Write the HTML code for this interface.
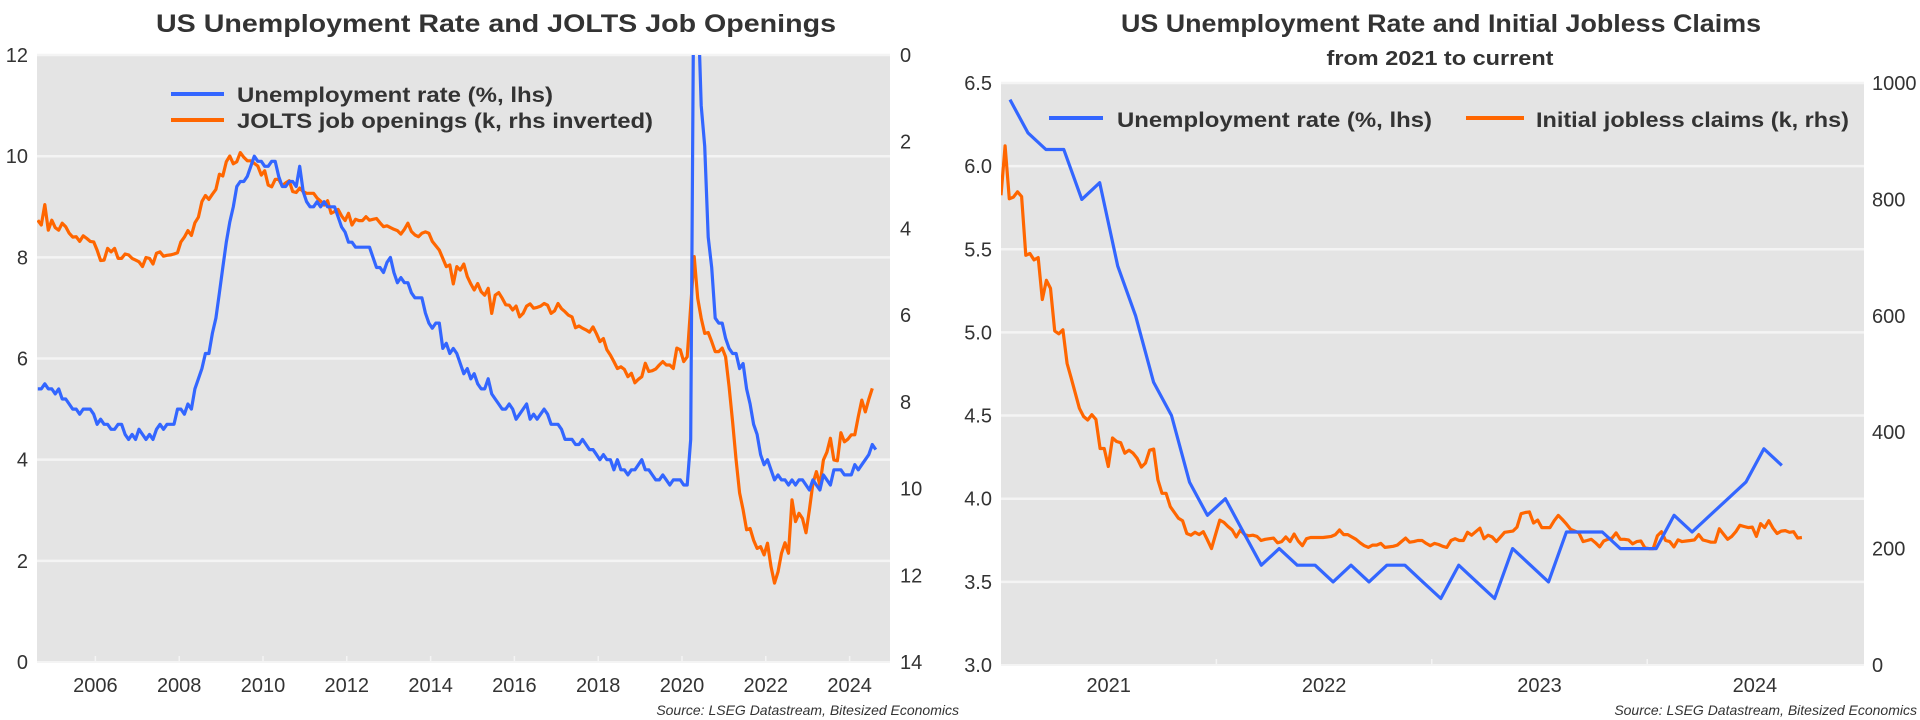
<!DOCTYPE html>
<html><head><meta charset="utf-8"><style>
html,body{margin:0;padding:0;background:#fff;}
svg{display:block;font-family:"Liberation Sans",Arial,sans-serif;}
</style></head><body>
<svg id="c" width="1920" height="720" viewBox="0 0 1920 720" xmlns="http://www.w3.org/2000/svg">
<defs>
<clipPath id="clipL"><rect x="37" y="55" width="853" height="607"/></clipPath>
<clipPath id="clipR"><rect x="1001" y="83" width="863" height="582"/></clipPath>
</defs>
<g id="left">
<rect x="37" y="55" width="853" height="607" fill="#e4e4e4"/>
<g id="lgrid"></g>
<g id="lticks"></g>
<g id="lseries" clip-path="url(#clipL)"></g>
<text x="496" y="32" text-anchor="middle" font-size="25" font-weight="bold" fill="#333" textLength="680" lengthAdjust="spacingAndGlyphs">US Unemployment Rate and JOLTS Job Openings</text>
<g>
<line x1="171" y1="94" x2="224" y2="94" stroke="#3366ff" stroke-width="4"/>
<text x="237" y="102" font-size="21" font-weight="bold" fill="#333" textLength="316" lengthAdjust="spacingAndGlyphs">Unemployment rate (%, lhs)</text>
<line x1="171" y1="120" x2="224" y2="120" stroke="#ff6600" stroke-width="4"/>
<text x="237" y="128" font-size="21" font-weight="bold" fill="#333" textLength="416" lengthAdjust="spacingAndGlyphs">JOLTS job openings (k, rhs inverted)</text>
</g>
<text x="959" y="715" text-anchor="end" font-size="14" font-style="italic" fill="#333">Source: LSEG Datastream, Bitesized Economics</text>
</g>
<g id="right">
<rect x="1001" y="83" width="863" height="582" fill="#e4e4e4"/>
<g id="rgrid"></g>
<g id="rticks"></g>
<g id="rseries" clip-path="url(#clipR)"></g>
<text x="1441" y="32" text-anchor="middle" font-size="25" font-weight="bold" fill="#333" textLength="640" lengthAdjust="spacingAndGlyphs">US Unemployment Rate and Initial Jobless Claims</text>
<text x="1440" y="65" text-anchor="middle" font-size="20" font-weight="bold" fill="#333" textLength="227" lengthAdjust="spacingAndGlyphs">from 2021 to current</text>
<g>
<line x1="1049" y1="118" x2="1103" y2="118" stroke="#3366ff" stroke-width="4"/>
<text x="1117" y="127" font-size="21" font-weight="bold" fill="#333" textLength="315" lengthAdjust="spacingAndGlyphs">Unemployment rate (%, lhs)</text>
<line x1="1466" y1="118" x2="1524" y2="118" stroke="#ff6600" stroke-width="4"/>
<text x="1536" y="127" font-size="21" font-weight="bold" fill="#333" textLength="313" lengthAdjust="spacingAndGlyphs">Initial jobless claims (k, rhs)</text>
</g>
<text x="1917" y="715" text-anchor="end" font-size="14" font-style="italic" fill="#333">Source: LSEG Datastream, Bitesized Economics</text>
</g>
</svg>
<script>
// ---- Left chart data (monthly, starting Aug 2004) ----
const leftStart = [2004, 8];
const leftUnemp = [5.4,5.4,5.5,5.4,5.4,
5.3,5.4,5.2,5.2,5.1,5.0,5.0,4.9,5.0,5.0,5.0,4.9,
4.7,4.8,4.7,4.7,4.6,4.6,4.7,4.7,4.5,4.4,4.5,4.4,
4.6,4.5,4.4,4.5,4.4,4.6,4.7,4.6,4.7,4.7,4.7,5.0,
5.0,4.9,5.1,5.0,5.4,5.6,5.8,6.1,6.1,6.5,6.8,7.3,
7.8,8.3,8.7,9.0,9.4,9.5,9.5,9.6,9.8,10.0,9.9,9.9,
9.8,9.8,9.9,9.9,9.6,9.4,9.4,9.5,9.5,9.4,9.8,9.3,
9.1,9.0,9.0,9.1,9.0,9.1,9.0,9.0,9.0,8.8,8.6,8.5,
8.3,8.3,8.2,8.2,8.2,8.2,8.2,8.0,7.8,7.8,7.7,7.9,
8.0,7.7,7.5,7.6,7.5,7.5,7.3,7.2,7.2,7.2,6.9,6.7,
6.6,6.7,6.7,6.2,6.3,6.1,6.2,6.1,5.9,5.7,5.8,5.6,
5.7,5.5,5.4,5.4,5.6,5.3,5.2,5.1,5.0,5.0,5.1,5.0,
4.8,4.9,5.0,5.1,4.8,4.9,4.8,4.9,5.0,4.9,4.7,4.7,
4.7,4.6,4.4,4.4,4.4,4.3,4.3,4.4,4.3,4.2,4.2,4.1,
4.0,4.1,4.0,4.0,3.8,4.0,3.8,3.8,3.7,3.8,3.8,3.9,
4.0,3.8,3.8,3.7,3.6,3.6,3.7,3.6,3.5,3.6,3.6,3.6,
3.5,3.5,4.4,14.8,13.2,11.0,10.2,8.4,7.8,6.8,6.7,6.7,
6.4,6.2,6.1,6.1,5.8,5.9,5.4,5.1,4.7,4.5,4.1,3.9,
4.0,3.8,3.6,3.7,3.6,3.6,3.5,3.6,3.5,3.6,3.6,3.5,
3.4,3.6,3.5,3.4,3.7,3.6,3.5,3.8,3.8,3.8,3.7,3.7,
3.7,3.9,3.8,3.9,4.0,4.1,4.3,4.2];
const leftJolts = [3.81,3.92,3.45,4.04,3.81,3.98,4.04,3.88,3.96,4.11,4.2,4.19,4.3,4.17,4.23,4.3,4.31,4.5,4.74,4.73,
4.46,4.54,4.46,4.69,4.69,4.59,4.61,4.69,4.73,4.77,4.88,4.67,4.69,4.82,4.57,4.54,4.64,4.62,4.61,4.59,
4.56,4.31,4.2,4.05,4.16,3.87,3.74,3.38,3.24,3.33,3.21,3.1,2.75,2.79,2.46,2.33,2.51,2.46,2.25,2.36,
2.44,2.44,2.5,2.56,2.77,2.67,3.0,3.04,2.87,2.87,3.02,2.95,2.9,3.15,3.17,3.07,3.15,3.19,3.19,3.19,
3.3,3.37,3.46,3.36,3.65,3.61,3.56,3.71,3.82,3.65,3.92,3.79,3.82,3.82,3.73,3.81,3.79,3.77,3.87,3.96,
3.94,3.98,4.02,4.05,4.13,4.02,3.88,4.07,4.15,4.19,4.11,4.08,4.11,4.3,4.4,4.5,4.69,4.88,4.84,5.28,
4.88,4.96,4.82,5.11,5.28,5.42,5.27,5.46,5.54,5.38,5.96,5.54,5.48,5.61,5.76,5.77,5.88,5.79,6.04,5.96,
5.79,5.74,5.84,5.82,5.79,5.73,5.77,5.96,5.9,5.73,5.85,5.92,6.0,6.04,6.29,6.25,6.3,6.34,6.39,6.27,
6.43,6.61,6.54,6.8,6.92,7.07,7.23,7.19,7.25,7.42,7.34,7.56,7.48,7.42,7.11,7.3,7.28,7.24,7.15,7.07,
7.15,7.15,7.23,6.76,6.8,7.07,6.96,5.8,4.65,5.61,6.07,6.42,6.4,6.61,6.84,6.84,6.76,6.96,7.65,8.46,
9.34,10.1,10.49,10.95,10.92,11.19,11.38,11.34,11.53,11.26,11.8,12.18,11.92,11.49,11.25,11.49,10.26,10.76,10.57,10.69,
11.02,10.49,9.88,9.61,9.92,9.34,9.16,8.84,9.34,9.36,8.71,8.92,8.86,8.76,8.76,8.34,7.96,8.23,7.94,7.69];
const leftXTicks = [2006,2008,2010,2012,2014,2016,2018,2020,2022,2024];
const leftYTicks = [0,2,4,6,8,10,12];
const leftY2Ticks = [0,2,4,6,8,10,12,14];

// ---- Right chart data ----
const rightUnempStart = [2021, 1];
const rightUnemp = [6.4,6.2,6.1,6.1,5.8,5.9,5.4,5.1,4.7,4.5,4.1,3.9,
4.0,3.8,3.6,3.7,3.6,3.6,3.5,3.6,3.5,3.6,3.6,3.5,
3.4,3.6,3.5,3.4,3.7,3.6,3.5,3.8,3.8,3.8,3.7,3.7,
3.7,3.9,3.8,3.9,4.0,4.1,4.3,4.2];
const claimsStart = 2021.0; // first weekly observation (fractional year)
const claims = [807,892,801,804,813,805,704,707,696,700,628,661,647,574,569,576,518,493,467,441,
427,421,430,422,372,372,341,390,384,382,364,369,364,355,340,347,369,371,318,295,
295,272,262,252,248,226,223,228,224,229,215,200,225,249,245,238,232,220,232,224,
222,223,221,214,216,217,218,210,212,220,212,225,213,205,217,219,219,219,219,220,
221,224,232,224,224,220,216,210,205,202,206,206,209,202,203,204,206,212,218,211,
212,214,214,209,205,209,207,204,202,214,217,214,214,228,223,229,235,217,223,220,
212,220,228,229,230,237,260,262,263,244,249,236,236,236,248,257,250,242,233,230,
227,212,214,216,210,203,213,216,218,227,216,216,215,208,212,213,201,200,200,222,
229,214,212,203,215,212,213,214,215,224,215,213,211,211,234,225,216,221,229,240,
238,236,237,221,243,236,248,235,226,230,231,228,229,218,219];
const rightXLabels = [2021,2022,2023,2024];
const rightYTicks = [3.0,3.5,4.0,4.5,5.0,5.5,6.0,6.5];
const rightY2Ticks = [0,200,400,600,800,1000];

const NS = 'http://www.w3.org/2000/svg';
function mk(tag, attrs, parent){const e=document.createElementNS(NS,tag);for(const k in attrs)e.setAttribute(k,attrs[k]);parent.appendChild(e);return e;}

// axis functions
const xL = t => 682 + (t-2020)*41.9;
const yL = v => 662 - v*50.58;
const yL2 = v => 55 + v*43.36;
const xR = t => 1001 + (t-2021)*215.4;
const yR = v => 665 - (v-3)*166.3;
const yR2 = k => 665 - k*0.582;
const monthT = (start,i) => start[0] + (start[1]-1 + i + 0.5)/12;

// ---- left chart ----
const lgrid=document.getElementById('lgrid'), lticks=document.getElementById('lticks'), lseries=document.getElementById('lseries');
leftYTicks.forEach(v=>{
  if(v>0){const g=mk('line',{x1:37,x2:890,y1:yL(v),y2:yL(v),stroke:'#f4f4f4','stroke-width':2.5},lgrid);
  
  }
  const t=mk('text',{x:28,y:yL(v)+7,'text-anchor':'end','font-size':20,fill:'#333'},lticks);
  t.textContent=v;
  
  
});
leftY2Ticks.forEach(v=>{
  const t=mk('text',{x:900,y:yL2(v)+7,'text-anchor':'start','font-size':20,fill:'#333'},lticks);
  t.textContent=v;
  
  
});
{const b=mk('line',{x1:37,x2:890,y1:662,y2:662,stroke:'#f4f4f4','stroke-width':2},lticks);

}
leftXTicks.forEach(y=>{
  const m=mk('line',{x1:xL(y),x2:xL(y),y1:662,y2:656,stroke:'#f4f4f4','stroke-width':1.5},lticks);
  
  
  const t=mk('text',{x:xL(y),y:692,'text-anchor':'middle','font-size':20,fill:'#333'},lticks);
  t.textContent=y;
  
  
});
function pathFrom(vals,tf,xf,yf){return vals.map((v,i)=>(i?'L':'M')+xf(tf(i)).toFixed(1)+','+yf(v).toFixed(1)).join('');}
{const p=mk('path',{d:pathFrom(leftJolts,i=>monthT(leftStart,i),xL,yL2),fill:'none',stroke:'#ff6600','stroke-width':3.2,'stroke-linejoin':'round'},lseries);

}
{const p=mk('path',{d:pathFrom(leftUnemp,i=>monthT(leftStart,i),xL,yL),fill:'none',stroke:'#3366ff','stroke-width':3.2,'stroke-linejoin':'round'},lseries);

}

// ---- right chart ----
const rgrid=document.getElementById('rgrid'), rticks=document.getElementById('rticks'), rseries=document.getElementById('rseries');
rightYTicks.forEach(v=>{
  if(v>3){const g=mk('line',{x1:1001,x2:1864,y1:yR(v),y2:yR(v),stroke:'#f4f4f4','stroke-width':2.5},rgrid);
  
  }
  const t=mk('text',{x:992,y:yR(v)+7,'text-anchor':'end','font-size':20,fill:'#333'},rticks);
  t.textContent=v.toFixed(1);
  
  
});
rightY2Ticks.forEach(v=>{
  const t=mk('text',{x:1872,y:yR2(v)+7,'text-anchor':'start','font-size':20,fill:'#333'},rticks);
  t.textContent=v;
  
  
});
{const b=mk('line',{x1:1001,x2:1864,y1:665,y2:665,stroke:'#f4f4f4','stroke-width':2},rticks);

}
rightXLabels.forEach(y=>{
  if(y>2021){const m=mk('line',{x1:xR(y),x2:xR(y),y1:665,y2:659,stroke:'#f4f4f4','stroke-width':1.5},rticks);
  
  }
  const t=mk('text',{x:xR(y+0.5),y:692,'text-anchor':'middle','font-size':20,fill:'#333'},rticks);
  t.textContent=y;
  
  
});
{const p=mk('path',{d:pathFrom(claims,i=>claimsStart+i*7/365.25,xR,yR2),fill:'none',stroke:'#ff6600','stroke-width':3.2,'stroke-linejoin':'round'},rseries);

}
{const p=mk('path',{d:pathFrom(rightUnemp,i=>monthT(rightUnempStart,i),xR,yR),fill:'none',stroke:'#3366ff','stroke-width':3.2,'stroke-linejoin':'round'},rseries);

}
</script>
</body></html>
